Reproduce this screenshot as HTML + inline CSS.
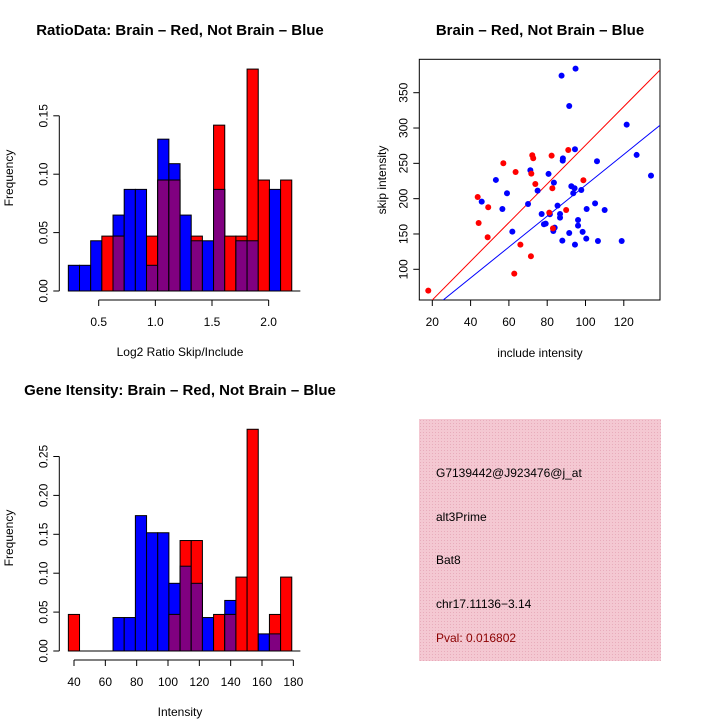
<!DOCTYPE html>
<html><head><meta charset="utf-8"><style>
html,body{margin:0;padding:0;background:#fff;}
svg{display:block;font-family:"Liberation Sans",sans-serif;}
</style></head><body>
<svg id="root" width="720" height="720" viewBox="0 0 720 720" xmlns="http://www.w3.org/2000/svg">
<defs>
<pattern id="hatch" width="3" height="3" patternUnits="userSpaceOnUse">
<rect width="3" height="3" fill="#f4c8d2"/><rect width="1" height="1" fill="#e8acbb"/>
</pattern>
</defs>
<g id="p1"></g>
<g id="p2"></g>
<g id="p3"></g>
<g id="p4">
<rect x="419" y="419" width="242" height="242" fill="url(#hatch)"/>
<text x="436" y="477" font-size="12">G7139442@J923476@j_at</text>
<text x="436" y="521" font-size="12">alt3Prime</text>
<text x="436" y="564" font-size="12">Bat8</text>
<text x="436" y="608" font-size="12">chr17.11136−3.14</text>
<text x="436" y="642" font-size="12" fill="#8b0000">Pval: 0.016802</text>
</g>
</svg>
<script>
// ---- Histogram 1 data ----
const h1Start = 0.232, h1Width = 0.0986;
const h1Blue = [0.022,0.022,0.043,0,0.065,0.087,0.087,0.022,0.130,0.109,0.065,0.043,0.043,0.087,0,0.043,0.043,0,0.087,0];
const h1Red  = [0,0,0,0.047,0.047,0,0,0.047,0.095,0.095,0,0.047,0,0.142,0.047,0.047,0.190,0.095,0,0.095];
const h1XTicks = [0.5,1.0,1.5,2.0];
const h1XTickLabels = ["0.5","1.0","1.5","2.0"];
const h1YTicks = [0,0.05,0.10,0.15];
const h1YTickLabels = ["0.00","0.05","0.10","0.15"];
// ---- Histogram 2 data ----
const h2Start = 36.4, h2Width = 7.13;
const h2Blue = [0,0,0,0,0.043,0.043,0.174,0.152,0.152,0.087,0.109,0.087,0.043,0,0.065,0,0,0.022,0.022,0];
const h2Red  = [0.047,0,0,0,0,0,0,0,0,0.047,0.142,0.142,0,0.047,0.047,0.095,0.285,0,0.047,0.095];
const h2XTicks = [40,60,80,100,120,140,160,180];
const h2XTickLabels = ["40","60","80","100","120","140","160","180"];
const h2YTicks = [0,0.05,0.10,0.15,0.20,0.25];
const h2YTickLabels = ["0.00","0.05","0.10","0.15","0.20","0.25"];
// ---- Scatter data ----
const redX = [17.9,43.7,44.2,49.2,48.9,57.1,63.5,62.8,66.0,71.7,72.2,72.7,73.8,71.5,82.3,82.7,81.1,83.0,89.9,91.0,98.9];
const redY = [69.8,202.4,165.6,187.8,145.3,250.1,237.8,93.9,134.9,235.4,261.4,257.2,220.8,118.4,260.9,214.7,180.2,158.0,184.0,268.9,226.0];
const blueX = [45.8,53.2,56.6,59.0,61.8,70.0,71.2,75.0,77.1,78.3,79.2,80.7,81.4,83.5,83.2,83.9,85.4,86.7,86.7,87.5,88.1,88.2,87.9,91.5,91.5,92.6,93.6,94.3,94.8,94.5,94.5,96.1,96.1,97.8,98.5,100.4,100.6,105.0,106.0,106.5,110.0,118.9,121.5,126.7,134.2];
const blueY = [195.8,226.5,185.4,207.6,153.3,192.5,240.2,211.4,178.3,163.7,164.7,235.0,177.9,222.7,154.3,159.0,190.1,178.3,173.1,374.2,253.8,257.1,140.6,151.4,331.2,217.5,207.6,214.7,384.1,269.9,134.9,169.8,161.8,212.3,152.9,143.4,185.4,193.4,252.9,140.1,184.0,140.1,304.8,261.9,232.6];
const redFit = [1.8, 2.738];   // intercept, slope
const blueFit = [0.4, 2.185];
const sXTicks = [20,40,60,80,100,120];
const sXTickLabels = ["20","40","60","80","100","120"];
const sYTicks = [100,150,200,250,300,350];
const sYTickLabels = ["100","150","200","250","300","350"];

const NS = "http://www.w3.org/2000/svg";
function mk(parent, tag, attrs, text){
  const e = document.createElementNS(NS, tag);
  for (const k in attrs) e.setAttribute(k, attrs[k]);
  if (text !== undefined) e.textContent = text;
  parent.appendChild(e);
  return e;
}

function histogram(g, o){
  const xs = v => o.x0 + (v - o.d0) * o.kx;
  const ys = v => o.y0 - v * o.ky;
  const n = o.blue.length;
  for (let i = 0; i < n; i++){
    const l = xs(o.start + i*o.width), r = xs(o.start + (i+1)*o.width);
    const b = o.blue[i], rd = o.red[i], m = Math.min(b, rd);
    if (b > 0){
      const e = mk(g,'rect',{x:l,y:ys(b),width:r-l,height:ys(0)-ys(b),fill:'#0000ff',stroke:'#000','stroke-width':1});
      
      
    }
    if (rd > 0){
      const e = mk(g,'rect',{x:l,y:ys(rd),width:r-l,height:ys(0)-ys(rd),fill:'#ff0000',stroke:'#000','stroke-width':1});
      
      
    }
    if (m > 0){
      const e = mk(g,'rect',{x:l,y:ys(m),width:r-l,height:ys(0)-ys(m),fill:'#800080',stroke:'#000','stroke-width':1});
      
      
    }
  }
  const bl = mk(g,'line',{x1:xs(o.start),x2:xs(o.start)+o.baseExt,y1:ys(0),y2:ys(0),stroke:'#000'});
  
  
  const ya = mk(g,'g',{});
  
  
  const yt = o.yTicks;
  mk(ya,'line',{x1:o.yAxisX,x2:o.yAxisX,y1:ys(yt[0]),y2:ys(yt[yt.length-1]),stroke:'#000'});
  yt.forEach((v,i)=>{
    mk(ya,'line',{x1:o.yAxisX-6,x2:o.yAxisX,y1:ys(v),y2:ys(v),stroke:'#000'});
    const t = mk(ya,'text',{x:0,y:0,'font-size':12,'text-anchor':'middle',transform:`translate(${o.yAxisX-12},${ys(v)}) rotate(-90)`}, o.yLabels[i]);
    
    
  });
  const xa = mk(g,'g',{});
  
  
  const xt = o.xTicks;
  mk(xa,'line',{x1:xs(xt[0]),x2:xs(xt[xt.length-1]),y1:o.xAxisY,y2:o.xAxisY,stroke:'#000'});
  xt.forEach((v,i)=>{
    mk(xa,'line',{x1:xs(v),x2:xs(v),y1:o.xAxisY,y2:o.xAxisY+6,stroke:'#000'});
    const t = mk(xa,'text',{x:xs(v),y:o.xAxisY+26,'font-size':12,'text-anchor':'middle'}, o.xLabels[i]);
    
    
  });
  const tt = mk(g,'text',{x:o.titleX,y:o.titleY,'font-size':15,'font-weight':'bold','text-anchor':'middle'}, o.title);
  
  
  const xl = mk(g,'text',{x:180,y:o.xAxisY+56,'font-size':12,'text-anchor':'middle'}, o.xTitle);
  
  
  const yl = mk(g,'text',{x:0,y:0,'font-size':12,'text-anchor':'middle',transform:`translate(13,${o.yTitleY}) rotate(-90)`}, 'Frequency');
  
  
}

histogram(document.getElementById('p1'), {
  start:h1Start, width:h1Width, blue:h1Blue, red:h1Red,
  x0:98.7, d0:0.5, kx:113.3, y0:291, ky:1168, baseExt:232,
  yAxisX:59.3, xAxisY:300, yTicks:h1YTicks, yLabels:h1YTickLabels, xTicks:h1XTicks, xLabels:h1XTickLabels,
  title:'RatioData: Brain – Red, Not Brain – Blue', titleX:180, titleY:35, xTitle:'Log2 Ratio Skip/Include', yTitleY:178
});
histogram(document.getElementById('p3'), {
  start:h2Start, width:h2Width, blue:h2Blue, red:h2Red,
  x0:74, d0:40, kx:1.5667, y0:651, ky:778, baseExt:232,
  yAxisX:59.3, xAxisY:660, yTicks:h2YTicks, yLabels:h2YTickLabels, xTicks:h2XTicks, xLabels:h2XTickLabels,
  title:'Gene Itensity: Brain – Red, Not Brain – Blue', titleX:180, titleY:395, xTitle:'Intensity', yTitleY:538
});

(function(){
  const g = document.getElementById('p2');
  const L=419.3, R=660, T=59.3, B=300;
  const sx = v => 432.3 + (v-20)*1.915;
  const sy = v => 269.3 - (v-100)*0.7064;
  const cp = mk(g,'clipPath',{id:'sclip'});
  mk(cp,'rect',{x:L,y:T,width:R-L,height:B-T});
  const box = mk(g,'rect',{x:L,y:T,width:R-L,height:B-T,fill:'none',stroke:'#000'});
  
  
  const xmin=13, xmax=139;
  [[redFit,'#ff0000','red-fit-line'],[blueFit,'#0000ff','blue-fit-line']].forEach(([f,c,n])=>{
    const e = mk(g,'line',{x1:sx(xmin),y1:sy(f[0]+f[1]*xmin),x2:sx(xmax),y2:sy(f[0]+f[1]*xmax),stroke:c,'stroke-width':1,'clip-path':'url(#sclip)'});
    
    
  });
  blueX.forEach((v,i)=>{
    const e = mk(g,'circle',{cx:sx(v),cy:sy(blueY[i]),r:3,fill:'#0000ff'});
    
    
  });
  redX.forEach((v,i)=>{
    const e = mk(g,'circle',{cx:sx(v),cy:sy(redY[i]),r:3,fill:'#ff0000'});
    
    
  });
  sXTicks.forEach((v,i)=>{
    mk(g,'line',{x1:sx(v),x2:sx(v),y1:B,y2:B+6,stroke:'#000'});
    const t = mk(g,'text',{x:sx(v),y:B+26,'font-size':12,'text-anchor':'middle'}, sXTickLabels[i]);
    
    
  });
  sYTicks.forEach((v,i)=>{
    mk(g,'line',{x1:L-6,x2:L,y1:sy(v),y2:sy(v),stroke:'#000'});
    const t = mk(g,'text',{x:0,y:0,'font-size':12,'text-anchor':'middle',transform:`translate(${L-12},${sy(v)}) rotate(-90)`}, sYTickLabels[i]);
    
    
  });
  const tt = mk(g,'text',{x:540,y:35,'font-size':15,'font-weight':'bold','text-anchor':'middle'}, 'Brain – Red, Not Brain – Blue');
  
  
  const xl = mk(g,'text',{x:540,y:357,'font-size':12,'text-anchor':'middle'}, 'include intensity');
  
  
  const yl = mk(g,'text',{x:0,y:0,'font-size':12,'text-anchor':'middle',transform:`translate(386,180) rotate(-90)`}, 'skip intensity');
  
  
})();
</script>
</body></html>
